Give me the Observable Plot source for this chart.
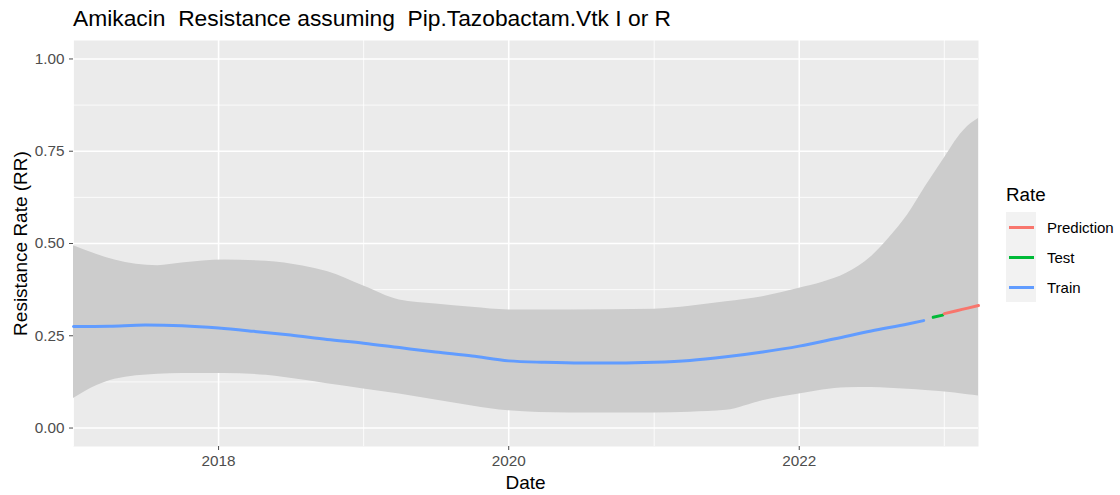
<!DOCTYPE html>
<html><head><meta charset="utf-8">
<script src="https://cdn.jsdelivr.net/npm/d3@7"></script>
<script src="https://cdn.jsdelivr.net/npm/@observablehq/plot@0.6"></script>
<style>
body{margin:0;background:#fff;font-family:"Liberation Sans",Arial,sans-serif;}
#wrap{position:relative;width:1120px;height:495px;overflow:hidden;}
.t{position:absolute;white-space:pre;line-height:1;color:#000;}
</style></head><body><div id="wrap"></div>
<script>
const chartTitle = "Amikacin  Resistance assuming  Pip.Tazobactam.Vtk I or R";
const xTitle = "Date";
const yTitle = "Resistance Rate (RR)";
const legendTitle = "Rate";
const rateLabels = ["Prediction", "Test", "Train"];
const rateColors = ["#F8766D", "#00BA38", "#619CFF"];

const trainDates = ["2017-01-01","2017-04-01","2017-07-01","2017-10-01","2018-01-01","2018-04-01","2018-07-01","2018-10-01","2019-01-01","2019-04-01","2019-07-01","2019-10-01","2020-01-01","2020-04-01","2020-07-01","2020-10-01","2021-01-01","2021-04-01","2021-07-01","2021-10-01","2022-01-01","2022-04-01","2022-07-01","2022-10-01","2022-11-10"];
const trainValues = [0.275,0.276,0.279,0.277,0.271,0.262,0.252,0.240,0.230,0.218,0.206,0.195,0.182,0.178,0.176,0.176,0.178,0.183,0.193,0.206,0.222,0.242,0.263,0.282,0.291];
const testDates = ["2022-12-04","2022-12-28"];
const testValues = [0.300,0.306];
const predDates = ["2023-01-01","2023-02-01","2023-03-01","2023-03-28"];
const predValues = [0.310,0.318,0.325,0.332];

const bandDates = ["2017-01-01","2017-03-01","2017-04-15","2017-08-01","2017-10-01","2018-01-15","2018-05-01","2018-08-01","2018-10-01","2019-01-01","2019-04-01","2019-07-01","2019-10-01","2020-01-01","2020-06-01","2021-01-01","2021-04-01","2021-07-01","2021-10-01","2022-01-01","2022-03-01","2022-05-01","2022-07-01","2022-08-15","2022-10-01","2022-11-15","2022-12-20","2023-01-15","2023-02-10","2023-03-01","2023-03-28"];
const bandUpper = [0.494,0.470,0.455,0.440,0.447,0.455,0.452,0.439,0.424,0.385,0.347,0.336,0.327,0.320,0.320,0.322,0.330,0.342,0.356,0.379,0.395,0.420,0.464,0.515,0.578,0.655,0.712,0.755,0.795,0.818,0.839];
const bandLower = [0.080,0.115,0.132,0.146,0.148,0.148,0.143,0.130,0.120,0.106,0.092,0.076,0.060,0.047,0.041,0.041,0.043,0.048,0.074,0.092,0.103,0.109,0.110,0.108,0.105,0.102,0.099,0.096,0.093,0.090,0.087];

const yMajor = [0, 0.25, 0.5, 0.75, 1];
const yMinor = [0.125, 0.375, 0.625, 0.875];
const xMajor = ["2018-01-01","2020-01-01","2022-01-01"];
const xMinor = ["2017-01-01","2019-01-01","2021-01-01","2023-01-01"];
const xDomain = ["2017-01-01","2023-03-28"];
const yDomain = [-0.05, 1.05];

const P = d => new Date(d + "T00:00:00Z");
const band = bandDates.map((d, i) => ({date: P(d), lo: bandLower[i], hi: bandUpper[i]}));
const series = [
  ...trainDates.map((d, i) => ({date: P(d), v: trainValues[i], rate: "Train"})),
  ...testDates.map((d, i) => ({date: P(d), v: testValues[i], rate: "Test"})),
  ...predDates.map((d, i) => ({date: P(d), v: predValues[i], rate: "Prediction"}))
];

const chart = Plot.plot({
  width: 1120, height: 495,
  marginLeft: 73, marginRight: 142, marginTop: 40, marginBottom: 49,
  style: {fontFamily: '"Liberation Sans", Arial, sans-serif', background: "transparent"},
  x: {type: "utc", domain: xDomain.map(P)},
  y: {domain: yDomain},
  color: {domain: rateLabels, range: rateColors},
  marks: [
    Plot.frame({fill: "#EBEBEB", stroke: null}),
    Plot.ruleY(yMinor, {stroke: "#fff", strokeWidth: 0.8}),
    Plot.ruleX(xMinor.map(P), {stroke: "#fff", strokeWidth: 0.8}),
    Plot.ruleY(yMajor, {stroke: "#fff", strokeWidth: 1.6}),
    Plot.ruleX(xMajor.map(P), {stroke: "#fff", strokeWidth: 1.6}),
    Plot.areaY(band, {x: "date", y1: "lo", y2: "hi", fill: "#CCCCCC", curve: "monotone-x"}),
    Plot.line(series, {x: "date", y: "v", z: "rate", stroke: "rate", strokeWidth: 3, curve: "monotone-x"}),
    Plot.axisY(yMajor, {tickSize: 4, tickPadding: 5, tickFormat: d3.format(".2f"), fontSize: 15.3, color: "#4D4D4D", label: null}),
    Plot.axisX(xMajor.map(P), {tickSize: 4, tickPadding: 5, tickFormat: d3.utcFormat("%Y"), fontSize: 15.3, color: "#4D4D4D", label: null})
  ]
});

const wrap = document.getElementById("wrap");
chart.style.position = "absolute";
chart.style.left = "0px";
chart.style.top = "0px";
wrap.appendChild(chart);

function addText(txt, size, left, top, extra) {
  const d = document.createElement("div");
  d.className = "t";
  d.textContent = txt;
  d.style.fontSize = size + "px";
  d.style.left = left + "px";
  d.style.top = top + "px";
  if (extra) Object.assign(d.style, extra);
  wrap.appendChild(d);
  return d;
}
addText(chartTitle, 22.8, 73, 6.7);
addText(xTitle, 19, 325.5, 472.7, {width: "400px", textAlign: "center"});
addText(yTitle, 19, 20 - 200, 243 - 9.5, {width: "400px", textAlign: "center", transform: "rotate(-90deg)", transformOrigin: "50% 50%"});
addText(legendTitle, 18.8, 1006, 185.8);

rateLabels.forEach((lab, i) => {
  const cy = 227 + i * 30;
  const key = document.createElement("div");
  Object.assign(key.style, {position: "absolute", left: "1006px", top: (cy - 15) + "px", width: "30px", height: "30px", background: "#F2F2F2"});
  wrap.appendChild(key);
  const ln = document.createElement("div");
  Object.assign(ln.style, {position: "absolute", left: "1009px", top: (cy - 1.5) + "px", width: "25px", height: "3px", background: rateColors[i]});
  wrap.appendChild(ln);
  addText(lab, 15, 1047, cy - 7.3);
});
</script>
</body></html>
